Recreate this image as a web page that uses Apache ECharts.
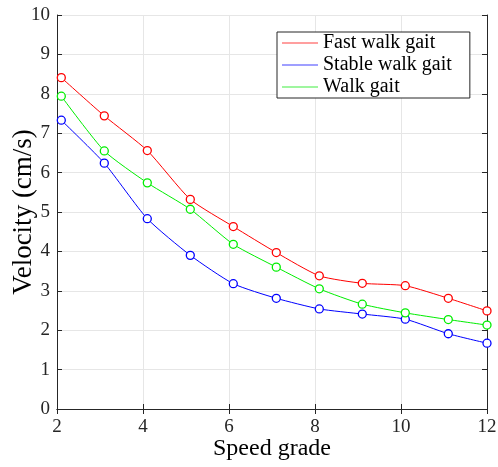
<!DOCTYPE html>
<html><head><meta charset="utf-8">
<script src="https://cdn.jsdelivr.net/npm/echarts@6/dist/echarts.min.js"></script>
<style>html,body{margin:0;padding:0;background:#fff}#c{width:498px;height:467px}</style>
</head><body><div id="c"></div>
<script>
var speedGrade = [2.1, 3.1, 4.1, 5.1, 6.1, 7.1, 8.1, 9.1, 10.1, 11.1, 12];
var fastWalk = [8.41, 7.44, 6.56, 5.32, 4.63, 3.97, 3.38, 3.19, 3.13, 2.81, 2.49];
var stableWalk = [7.33, 6.24, 4.83, 3.90, 3.18, 2.81, 2.54, 2.41, 2.28, 1.91, 1.67];
var walk = [7.94, 6.55, 5.74, 5.07, 4.18, 3.60, 3.05, 2.66, 2.44, 2.27, 2.13];
var seriesNames = ['Fast walk gait', 'Stable walk gait', 'Walk gait'];
var xTitle = 'Speed grade';
var yTitle = 'Velocity (cm/s)';

var font = 'Liberation Serif, Times New Roman, serif';
function pairs(ys){ return speedGrade.map(function(x,i){ return [x, ys[i]]; }); }
function mk(name, data, color){
  return {
    name: name, type: 'line', data: pairs(data), smooth: 0.2,
    symbol: 'circle', symbolSize: 8,
    lineStyle: {color: color, width: 1},
    itemStyle: {color: '#fff', borderColor: color, borderWidth: 1.3},
    emphasis: {disabled: true},
    z: 3
  };
}
var chart = echarts.init(document.getElementById('c'), null, {renderer: 'canvas'});
var axisLineStyle = {show: true, lineStyle: {color: '#262626', width: 1}};
var tick = {show: true, inside: true, length: 5, lineStyle: {color: '#262626'}};
chart.setOption({
  animation: false,
  backgroundColor: '#fff',
  grid: {left: 57, right: 11, top: 15, bottom: 58, outerBoundsMode: 'none', containLabel: false},
  legend: {
    orient: 'vertical', left: 277, top: 32,
    data: seriesNames.map(function(n, i){
      return {name: n, icon: 'rect',
        itemStyle: {color: ['#ff4040','#4040ff','#40ee40'][i], borderWidth: 0}};
    }),
    itemWidth: 36, itemHeight: 1, itemGap: 2,
    borderColor: '#262626', borderWidth: 1, backgroundColor: '#fff',
    padding: [1, 18, 1, 5],
    textStyle: {fontFamily: font, fontSize: 20, lineHeight: 20, color: '#000'}
  },
  xAxis: [{
    type: 'value', min: 2, max: 12, interval: 2,
    name: xTitle, nameLocation: 'middle', nameGap: 28, nameMoveOverlap: false,
    nameTextStyle: {fontFamily: font, fontSize: 24, color: '#000'},
    axisLine: axisLineStyle, axisTick: tick,
    axisLabel: {fontFamily: font, fontSize: 19, color: '#262626', margin: 9},
    splitLine: {show: true, lineStyle: {color: '#e6e6e6', width: 1}}
  }, {
    type: 'value', min: 2, max: 12, interval: 2, position: 'top',
    axisLine: axisLineStyle, axisTick: tick,
    axisLabel: {show: false}, splitLine: {show: false}
  }],
  yAxis: [{
    type: 'value', min: 0, max: 10, interval: 1,
    name: yTitle, nameLocation: 'middle', nameGap: 20, nameRotate: 90, nameMoveOverlap: false,
    nameTextStyle: {fontFamily: font, fontSize: 27, color: '#000'},
    axisLine: axisLineStyle, axisTick: tick,
    axisLabel: {fontFamily: font, fontSize: 19, color: '#262626', margin: 7},
    splitLine: {show: true, lineStyle: {color: '#e6e6e6', width: 1}}
  }, {
    type: 'value', min: 0, max: 10, interval: 1, position: 'right',
    axisLine: axisLineStyle, axisTick: tick,
    axisLabel: {show: false}, splitLine: {show: false}
  }],
  series: [
    mk(seriesNames[0], fastWalk, '#ff0000'),
    mk(seriesNames[1], stableWalk, '#0000ff'),
    mk(seriesNames[2], walk, '#00ee00')
  ]
});
</script></body></html>
